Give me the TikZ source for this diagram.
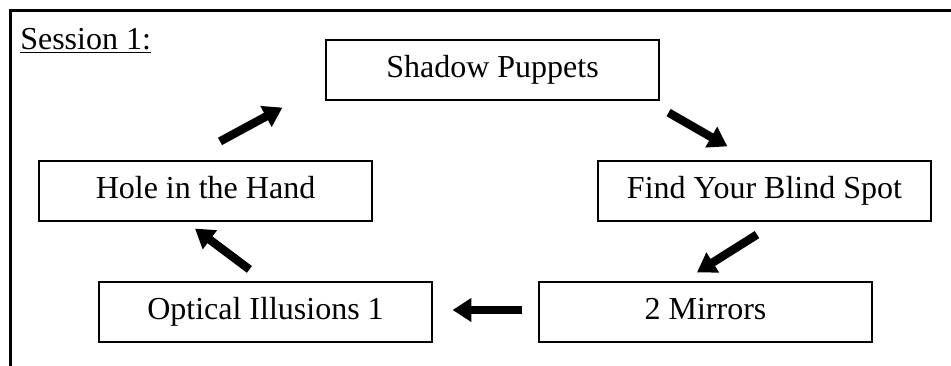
\documentclass[tikz,border=0pt]{standalone}
\usepackage{fontspec}
\setmainfont{Liberation Serif}
\usepackage{tikz}
\usetikzlibrary{arrows.meta,calc}
\tikzset{
  activity/.style={draw, line width=0.9pt, minimum width=249.75pt, minimum height=45pt,
    inner sep=0pt, text height=17.5pt, text depth=6pt, font=\fontsize{24}{28}\selectfont},
  fatarrow/.style={line width=6.3pt, -{Triangle[length=14pt,width=17pt]}},
}

\begin{document}
\begin{tikzpicture}[x=0.75pt, y=-0.75pt]
  \useasboundingbox (0,0) rectangle (951,366);
  \draw[line width=2.6pt] (10.5,380) -- (10.5,10.5) -- (960,10.5);  %frame
  \node[anchor=base west, inner sep=0pt, font=\fontsize{24}{28}\selectfont] (title) at (20,50) {\underline{Session 1:}};

  \node[activity] (shadow) at (492.5,70) {Shadow Puppets};
  \node[activity] (blind) at (764.5,191) {Find Your Blind Spot};
  \node[activity] (mirrors) at (705.5,312) {2 Mirrors};
  \node[activity] (optical) at (265.5,312) {Optical Illusions 1};
  \node[activity] (hole) at (205.5,191) {Hole in the Hand};

  % arrow ends, placed next to the boxes
  \coordinate (t1) at ($(hole.north)+(14.5,-19)$);
  \coordinate (h1) at ($(shadow.south west)+(-43,7)$);
  \coordinate (t2) at ($(shadow.south east)+(9,12)$);
  \coordinate (h2) at ($(blind.north west)+(130,-14)$);
  \coordinate (t3) at ($(blind.south)+(-7.5,13)$);
  \coordinate (h3) at ($(mirrors.north)+(-8.5,-9)$);
  \coordinate (t4) at ($(mirrors.west)+(-16,-2)$);
  \coordinate (h4) at ($(optical.east)+(20,-2)$);
  \coordinate (t5) at ($(optical.north west)+(151,-12)$);
  \coordinate (h5) at ($(hole.south)+(-10.5,7)$);

  \draw[fatarrow] (t1) -- (h1);
  \draw[fatarrow] (t2) -- (h2);
  \draw[fatarrow] (t3) -- (h3);
  \draw[fatarrow] (t4) -- (h4);
  \draw[fatarrow] (t5) -- (h5);
\end{tikzpicture}
\end{document}
